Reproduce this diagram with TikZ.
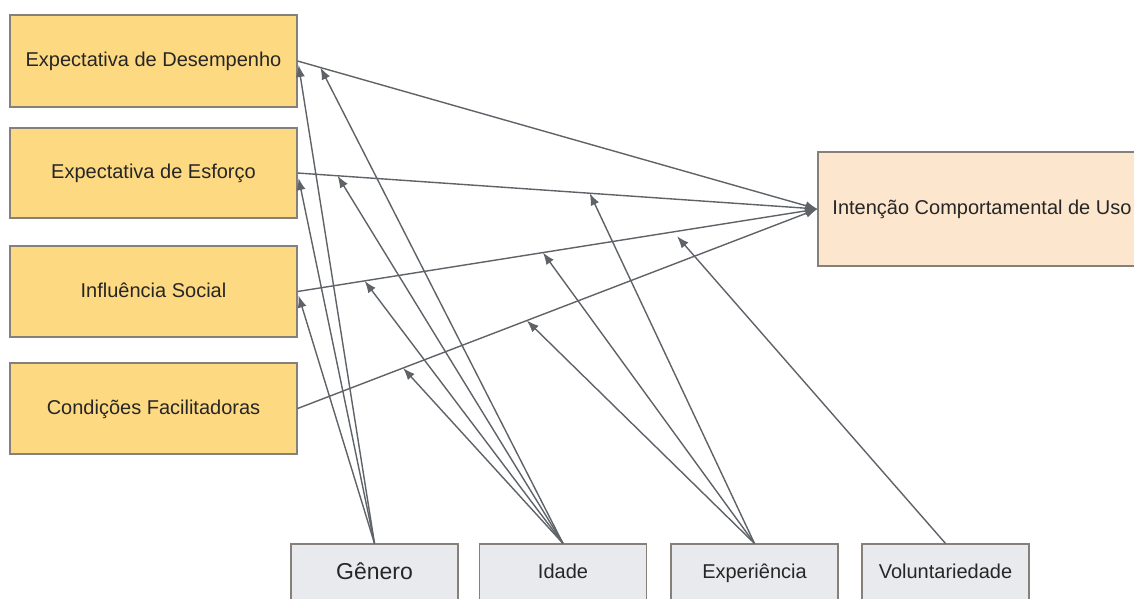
\documentclass[tikz,border=0pt]{standalone}
\usepackage{fontspec}
\setmainfont{Liberation Sans}
\usetikzlibrary{arrows.meta,calc}
\definecolor{cfill}{HTML}{FDD982}
\definecolor{tfill}{HTML}{FCE6CD}
\definecolor{mfill}{HTML}{E8EAED}
\definecolor{bord}{HTML}{85807A}
\definecolor{edgec}{HTML}{5F6368}
\definecolor{txt}{HTML}{262626}
\begin{document}
\begin{tikzpicture}[x=1pt,y=-1pt,
  box/.style={draw=bord, line width=1.1pt, inner sep=0pt, text=txt, text height=15pt, text depth=4pt, font=\fontsize{20}{24}\selectfont},
  cons/.style={box, fill=cfill, minimum width=287pt},
  tgt/.style={box, fill=tfill, minimum width=328pt, minimum height=114pt},
  modbox/.style={box, fill=mfill, minimum width=167pt, minimum height=58pt},
  conn/.style={draw=edgec, line width=1.4pt, -{Latex[length=12pt,width=9pt]}},
]
\useasboundingbox (0,0) rectangle (1134,598);
\clip (0,0) rectangle (1134,598);
\fill[white] (0,0) rectangle (1134,598);

% constructs
\node[cons, minimum height=92pt] (pe) at (153.5,61) {Expectativa de Desempenho};
\node[cons, minimum height=90pt] (ee) at (153.5,173) {Expectativa de Esforço};
\node[cons, minimum height=91pt] (si) at (153.5,291.5) {Influência Social};
\node[cons, minimum height=91pt] (fc) at (153.5,408.5) {Condições Facilitadoras};
\node[tgt] (bi) at (982,209) {Intenção Comportamental de Uso};

% moderators
\node[modbox, font=\fontsize{23}{28}\selectfont, text height=17pt, text depth=5pt] (gen) at (374.5,573) {Gênero};
\node[modbox] (ida) at (563,573) {Idade};
\node[modbox] (exp) at (754.5,573) {Experiência};
\node[modbox] (vol) at (945.5,573) {Voluntariedade};

% main paths
\draw[conn] (pe.east) -- coordinate[pos=0.044] (pe-i) (bi.west);
\draw[conn] (ee.east) -- coordinate[pos=0.077] (ee-i) coordinate[pos=0.562] (ee-e) (bi.west);
\draw[conn] (si.east) -- coordinate[pos=0.129] (si-i) coordinate[pos=0.472] (si-e) coordinate[pos=0.73] (si-v) (bi.west);
\draw[conn] (fc.east) -- coordinate[pos=0.203] (fc-i) coordinate[pos=0.441] (fc-e) (bi.west);

% endpoints at the construct boxes
\coordinate (pe-g) at ($(pe.east)+(1,4)$);
\coordinate (ee-g) at ($(ee.east)+(1,5)$);
\coordinate (si-g) at ($(si.east)+(1,4)$);
\coordinate (si-vv) at ($(si-v)+(0,5)$);

% moderating arrows
\draw[conn] (gen.north) -- (pe-g);
\draw[conn] (gen.north) -- (ee-g);
\draw[conn] (gen.north) -- (si-g);

\draw[conn] (ida.north) -- (pe-i);
\draw[conn] (ida.north) -- (ee-i);
\draw[conn] (ida.north) -- (si-i);
\draw[conn] (ida.north) -- (fc-i);

\draw[conn] (exp.north) -- (ee-e);
\draw[conn] (exp.north) -- (si-e);
\draw[conn] (exp.north) -- (fc-e);

\draw[conn] (vol.north) -- (si-vv);
\end{tikzpicture}
\end{document}
